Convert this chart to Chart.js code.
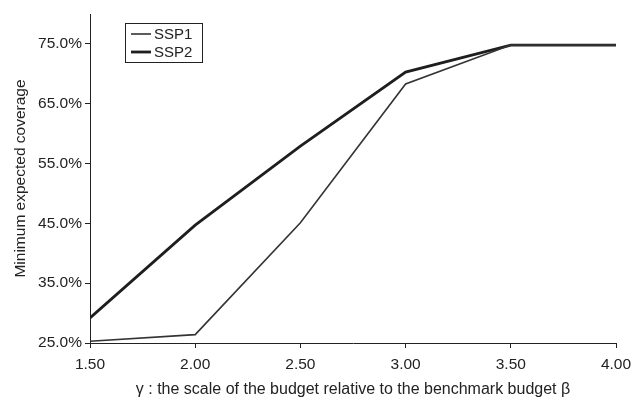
<!DOCTYPE html>
<html>
<head>
<meta charset="utf-8">
<script src="https://cdn.jsdelivr.net/npm/chart.js@4"></script>
<style>
  html, body { margin: 0; padding: 0; background: #fff; }
  #wrap { width: 632px; height: 399px; }
</style>
</head>
<body>
<div id="wrap"><canvas id="grafico"></canvas></div>
<script>
// valores
const gammas = [1.5, 2.0, 2.5, 3.0, 3.5, 4.0];
const ssp1 = [25.3, 26.4, 45.1, 68.3, 74.8, 74.8];
const ssp2 = [29.2, 44.7, 57.9, 70.3, 74.8, 74.8];
const yTicks = [25, 35, 45, 55, 65, 75];
const xTicks = [1.5, 2.0, 2.5, 3.0, 3.5, 4.0];

const fonte = "'Liberation Sans', Arial, sans-serif";

// legenda dentro da área do gráfico
const legendaBox = {
    id: 'legendaBox',
    afterDraw(chart) {
        const ctx = chart.ctx;
        const a = chart.chartArea;
        const x0 = a.left + 35, y0 = a.top + 9;
        ctx.save();
        ctx.strokeStyle = '#222';
        ctx.lineWidth = 1;
        ctx.strokeRect(x0 + 0.5, y0 + 0.5, 77, 39);
        ctx.font = '15px ' + fonte;
        ctx.textBaseline = 'middle';
        chart.data.datasets.forEach((ds, i) => {
            const yy = y0 + 11 + i * 18;
            ctx.strokeStyle = ds.borderColor;
            ctx.lineWidth = ds.borderWidth;
            ctx.beginPath();
            ctx.moveTo(x0 + 6, yy);
            ctx.lineTo(x0 + 26, yy);
            ctx.stroke();
            ctx.fillStyle = '#222';
            ctx.fillText(ds.label, x0 + 29, yy + 1);
        });
        ctx.restore();
    }
};

const ctx = document.getElementById('grafico').getContext('2d');
new Chart(ctx, {
    type: 'line',
    data: {
        datasets: [{
            label: 'SSP1',
            data: gammas.map((g, i) => ({ x: g, y: ssp1[i] })),
            borderColor: '#333',
            borderWidth: 1.6,
            pointRadius: 0,
            tension: 0,
            fill: false
        }, {
            label: 'SSP2',
            data: gammas.map((g, i) => ({ x: g, y: ssp2[i] })),
            borderColor: '#1e1e1e',
            borderWidth: 2.8,
            pointRadius: 0,
            tension: 0,
            fill: false
        }]
    },
    options: {
        responsive: true,
        maintainAspectRatio: false,
        animation: false,
        layout: { padding: { left: 0, right: 16, top: 14, bottom: 0 } },
        plugins: {
            legend: { display: false },
            tooltip: { enabled: false }
        },
        scales: {
            x: {
                type: 'linear',
                min: 1.5,
                max: 4.0,
                afterBuildTicks: s => { s.ticks = xTicks.map(v => ({ value: v })); },
                afterFit: s => { s.height = 56; s.paddingLeft = 0; s.paddingRight = 0; },
                grid: { display: true, drawOnChartArea: false, drawTicks: true, tickLength: 5, color: '#222' },
                border: { display: true, color: '#222', width: 1 },
                ticks: {
                    color: '#222',
                    font: { family: fonte, size: 15.5 },
                    padding: 7,
                    maxRotation: 0,
                    callback: v => Number(v).toFixed(2)
                },
                title: {
                    display: true,
                    text: 'γ : the scale of the budget relative to the benchmark budget β',
                    color: '#222',
                    font: { family: fonte, size: 16 },
                    padding: { top: 4, bottom: 0 }
                }
            },
            y: {
                min: 25,
                max: 80,
                afterBuildTicks: s => { s.ticks = yTicks.map(v => ({ value: v })); },
                afterFit: s => { s.width = 90; s.paddingTop = 0; s.paddingBottom = 0; },
                grid: { display: true, drawOnChartArea: false, drawTicks: true, tickLength: 5, color: '#222' },
                border: { display: true, color: '#222', width: 1 },
                ticks: {
                    color: '#222',
                    font: { family: fonte, size: 15.5 },
                    padding: 3,
                    callback: v => Number(v).toFixed(1) + '%'
                },
                title: {
                    display: true,
                    text: 'Minimum expected coverage',
                    color: '#222',
                    font: { family: fonte, size: 15.5 },
                    padding: { top: 11, bottom: 4 }
                }
            }
        }
    },
    plugins: [legendaBox]
});
</script>
</body>
</html>
